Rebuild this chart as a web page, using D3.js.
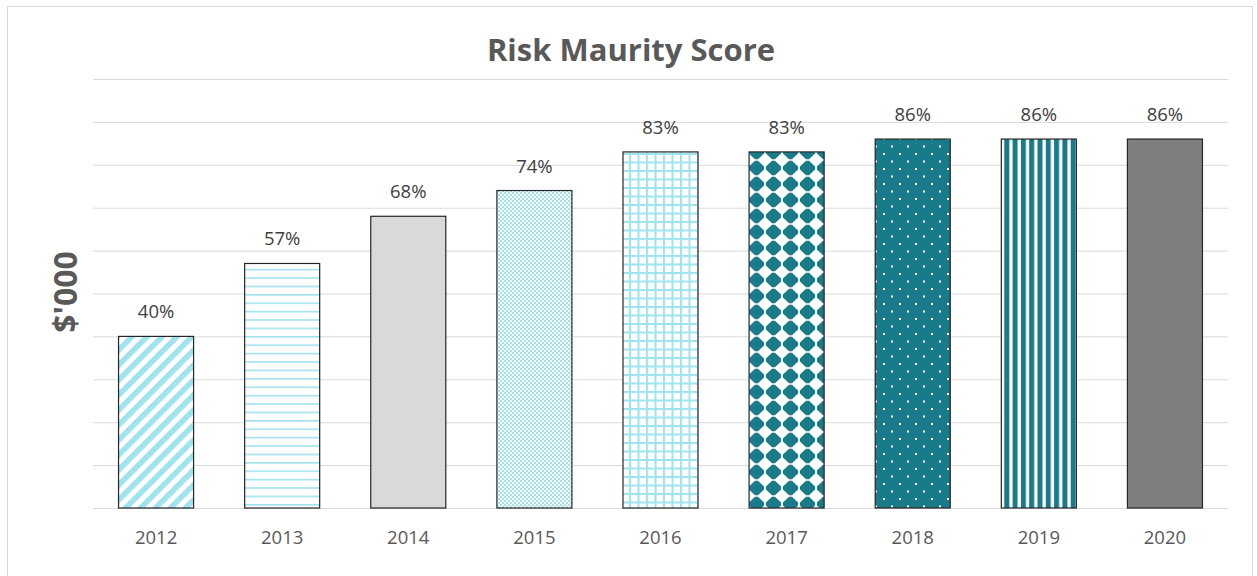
<!DOCTYPE html>
<html>
<head>
<meta charset="utf-8">
<script src="https://cdn.jsdelivr.net/npm/d3@7"></script>
<style>
  html, body { margin: 0; padding: 0; background: #ffffff; }
  svg { display: block; }
  text { font-family: "Open Sans", Lato, sans-serif; }
</style>
</head>
<body>
<svg id="chart" width="1257" height="576"></svg>
<script>
// ---- data ----
const years = ["2012", "2013", "2014", "2015", "2016", "2017", "2018", "2019", "2020"];
const scores = [0.40, 0.57, 0.68, 0.74, 0.83, 0.83, 0.86, 0.86, 0.86];
const fills = ["diag", "hlines", "solidLight", "checker", "grid", "diamonds", "dots", "vlines", "solidDark"];
const yTicks = [0, 0.1, 0.2, 0.3, 0.4, 0.5, 0.6, 0.7, 0.8, 0.9, 1.0];
const titleText = "Risk Maurity Score";
const yLabelText = "$'000";

const lightBlue = "#9fe3ef";
const teal = "#197b8a";

const svg = d3.select("#chart");

// frame
svg.append("rect").attr("x", 7.5).attr("y", 6.5).attr("width", 1245).attr("height", 580)
  .attr("fill", "#fff").attr("stroke", "#d9d9d9").attr("stroke-width", 1);

// ---- patterns ----
const defs = svg.append("defs");
function pat(id, w, h, transform) {
  const p = defs.append("pattern").attr("id", id).attr("patternUnits", "userSpaceOnUse")
    .attr("width", w).attr("height", h);
  if (transform) p.attr("patternTransform", transform);
  return p;
}
// 2012 wide upward diagonal
let p = pat("diag", 10.6, 10.6, "rotate(45)");
p.append("rect").attr("width", 10.6).attr("height", 10.6).attr("fill", "#fff");
p.append("rect").attr("width", 5.6).attr("height", 10.6).attr("fill", lightBlue);
// 2013 horizontal lines
p = pat("hlines", 10, 8.4);
p.append("rect").attr("width", 10).attr("height", 8.4).attr("fill", "#fff");
p.append("rect").attr("y", 0).attr("width", 10).attr("height", 1.6).attr("fill", lightBlue);
// 2015 small checker with white dots
p = pat("checker", 8, 8);
p.append("rect").attr("width", 8).attr("height", 8).attr("fill", "#fff");
[[0,0],[4,0],[2,2],[6,2],[0,4],[4,4],[2,6],[6,6]].forEach(([a,b]) =>
  p.append("rect").attr("x", a).attr("y", b).attr("width", 2).attr("height", 2).attr("fill", lightBlue));
p.append("rect").attr("x", 1).attr("y", 1).attr("width", 1).attr("height", 1).attr("fill", lightBlue);
p.append("rect").attr("x", 5).attr("y", 5).attr("width", 1).attr("height", 1).attr("fill", lightBlue);
// 2016 grid
p = pat("grid", 8.5, 8.5);
p.append("rect").attr("width", 8.5).attr("height", 8.5).attr("fill", "#fff");
p.append("rect").attr("width", 2).attr("height", 8.5).attr("fill", lightBlue);
p.append("rect").attr("width", 8.5).attr("height", 2).attr("fill", lightBlue);
// 2017 solid diamonds (aligned grid, nearly touching)
p = pat("diamonds", 17, 16);
p.append("rect").attr("width", 17).attr("height", 16).attr("fill", "#fff");
const gem = (cx, cy, rx, ry) =>
  `M${cx - 1.5},${cy - ry}L${cx + 1.5},${cy - ry}L${cx + rx},${cy - 1.5}L${cx + rx},${cy + 1.5}` +
  `L${cx + 1.5},${cy + ry}L${cx - 1.5},${cy + ry}L${cx - rx},${cy + 1.5}L${cx - rx},${cy - 1.5}Z`;
p.append("path").attr("d", gem(8.5, 8, 7.6, 7.2)).attr("fill", teal);
// 2018 dots on teal
p = pat("dots", 16, 15);
p.append("rect").attr("width", 16).attr("height", 15).attr("fill", teal);
p.append("rect").attr("x", 3).attr("y", 3).attr("width", 2).attr("height", 2).attr("fill", "#fff");
p.append("rect").attr("x", 11).attr("y", 10.5).attr("width", 2).attr("height", 2).attr("fill", "#fff");
// 2019 vertical lines
p = pat("vlines", 8.3, 10);
p.append("rect").attr("width", 8.3).attr("height", 10).attr("fill", "#fff");
p.append("rect").attr("x", 0).attr("width", 5).attr("height", 10).attr("fill", teal);

const fillFor = {
  diag: "url(#diag)", hlines: "url(#hlines)", solidLight: "#d9d9d9", checker: "url(#checker)",
  grid: "url(#grid)", diamonds: "url(#diamonds)", dots: "url(#dots)", vlines: "url(#vlines)", solidDark: "#7f7f7f"
};

// ---- scales ----
const x = d3.scaleBand().domain(years).range([93, 1228]).paddingInner(0.405).paddingOuter(0.2025);
const y = d3.scaleLinear().domain([0, 1]).range([508, 79]);

// gridlines
const grid = svg.append("g").attr("transform", "translate(93,0)")
  .call(d3.axisLeft(y).tickValues(yTicks).tickSize(-(1228 - 93)).tickFormat(""));
grid.select(".domain").remove();
grid.selectAll(".tick line").attr("stroke", "#d9d9d9").attr("stroke-width", 1);

// bars
const data = years.map((yr, i) => ({ yr, v: scores[i], f: fills[i] }));
svg.append("g").selectAll("rect").data(data).join("rect")
  .attr("x", d => x(d.yr))
  .attr("y", d => y(d.v))
  .attr("width", x.bandwidth())
  .attr("height", d => y(0) - y(d.v))
  .attr("fill", d => fillFor[d.f])
  .attr("stroke", "#262626").attr("stroke-width", 1.2);

// data labels
svg.append("g").selectAll("text").data(data).join("text")
  .attr("x", d => x(d.yr) + x.bandwidth() / 2)
  .attr("y", d => y(d.v) - 18)
  .attr("text-anchor", "middle")
  .attr("font-size", 18.5).attr("fill", "#404040")
  .text(d => Math.round(d.v * 100) + "%");

// x axis
const xa = svg.append("g").attr("transform", "translate(0,508)")
  .call(d3.axisBottom(x).tickSize(0).tickPadding(23));
xa.select(".domain").remove();
xa.selectAll("text").attr("font-size", 18.5).attr("fill", "#595959")
  .style("font-family", "'Open Sans', sans-serif");

// title
svg.append("text").attr("x", 631).attr("y", 61).attr("text-anchor", "middle")
  .attr("font-size", 31).attr("font-weight", "bold").attr("fill", "#595959").text(titleText);

// y label
svg.append("text").attr("transform", "translate(77,292) rotate(-90)").attr("text-anchor", "middle")
  .attr("font-size", 32).attr("font-weight", "bold").attr("fill", "#595959").text(yLabelText);
</script>
</body>
</html>
